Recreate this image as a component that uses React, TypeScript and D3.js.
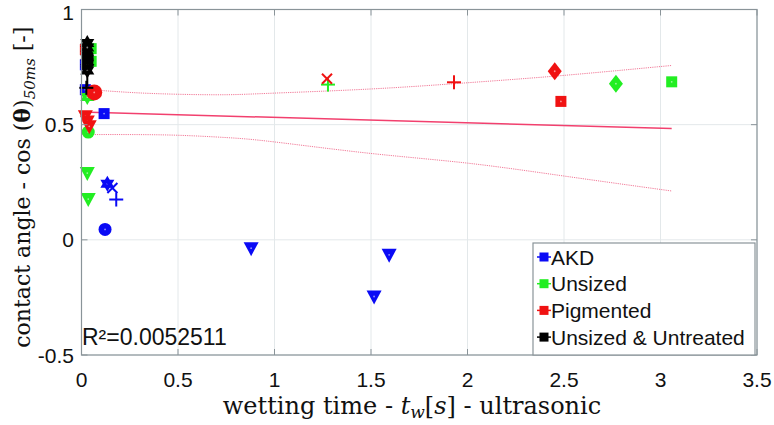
import React from "react";
import * as d3 from "d3";

// ---- data ----
const xTicks = [0, 0.5, 1, 1.5, 2, 2.5, 3, 3.5];
const yTicks = [-0.5, 0, 0.5, 1];

const seriesNames = ["AKD", "Unsized", "Pigmented", "Unsized & Untreated"];
const seriesColors = ["#0a0af5", "#22ee22", "#f01212", "#000000"];

// [wetting time, contact angle cos, marker]
const akdPoints: [number, number, string][] = [
  [0.02, 0.76, "square"],
  [0.02, 0.652, "square"],
  [0.117, 0.548, "square"],
  [0.134, 0.243, "hexagram"],
  [0.16, 0.225, "x"],
  [0.18, 0.175, "plus"],
  [0.122, 0.045, "circle"],
  [0.879, -0.036, "triangle"],
  [1.516, -0.246, "triangle"],
  [1.594, -0.065, "triangle"],
];
const unsizedPoints: [number, number, string][] = [
  [0.05, 0.83, "square"],
  [0.05, 0.775, "square"],
  [0.03, 0.62, "hexagram"],
  [0.035, 0.468, "circle"],
  [0.03, 0.29, "triangle"],
  [0.035, 0.177, "triangle"],
  [1.277, 0.674, "plus"],
  [2.769, 0.678, "diamond"],
  [3.058, 0.686, "square"],
];
const pigmentedPoints: [number, number, string][] = [
  [0.02, 0.826, "square"],
  [0.066, 0.64, "bigcircle"],
  [0.02, 0.536, "triangle"],
  [0.03, 0.514, "triangle"],
  [0.04, 0.493, "triangle"],
  [1.272, 0.699, "x"],
  [1.93, 0.684, "plus"],
  [2.452, 0.732, "diamond"],
  [2.484, 0.601, "square"],
];
const untreatedPoints: [number, number, string][] = [
  [0.03, 0.855, "hexagram"],
  [0.03, 0.835, "hexagram"],
  [0.03, 0.8, "circle"],
  [0.03, 0.78, "circle"],
  [0.03, 0.76, "diamond"],
  [0.03, 0.735, "hexagram"],
  [0.03, 0.7, "vline"],
  [0.025, 0.66, "plus"],
];

const fitX = [0, 3.058];
const fitY = [0.555, 0.483];
const bandX = [0, 0.25, 0.5, 0.75, 1, 1.5, 2, 2.5, 3.058];
const bandUpper = [0.655, 0.64, 0.632, 0.63, 0.637, 0.655, 0.682, 0.714, 0.757];
const bandLower = [0.457, 0.457, 0.454, 0.444, 0.425, 0.375, 0.333, 0.277, 0.212];
const r2Label = "R²=0.0052511";

const allSeries = [akdPoints, unsizedPoints, pigmentedPoints, untreatedPoints];

// ---- layout ----
const W = 774;
const H = 425;
const x = d3.scaleLinear().domain([0, 3.5]).range([81.5, 757]);
const y = d3.scaleLinear().domain([-0.5, 1]).range([355, 9.5]);

function Marker({ kind, cx, cy, color }: { kind: string; cx: number; cy: number; color: string }) {
  const dot = <circle cx={cx} cy={cy} r={0.9} fill="#ffffff" opacity={0.55} />;
  switch (kind) {
    case "square":
      return (
        <g>
          <rect x={cx - 5.5} y={cy - 5.5} width={11} height={11} fill={color} />
          {dot}
        </g>
      );
    case "circle":
      return (
        <g>
          <circle cx={cx} cy={cy} r={6.5} fill={color} />
          {dot}
        </g>
      );
    case "bigcircle":
      return (
        <g>
          <circle cx={cx} cy={cy} r={8} fill={color} />
          {dot}
        </g>
      );
    case "triangle":
      return (
        <g>
          <path d={`M${cx - 7.5},${cy - 6} L${cx + 7.5},${cy - 6} L${cx},${cy + 8} Z`} fill={color} />
          {dot}
        </g>
      );
    case "diamond":
      return (
        <g>
          <path d={`M${cx},${cy - 9} L${cx + 7},${cy} L${cx},${cy + 9} L${cx - 7},${cy} Z`} fill={color} />
          {dot}
        </g>
      );
    case "hexagram": {
      const p1 = `M${cx},${cy - 8} L${cx + 7},${cy + 4} L${cx - 7},${cy + 4} Z`;
      const p2 = `M${cx},${cy + 8} L${cx + 7},${cy - 4} L${cx - 7},${cy - 4} Z`;
      return (
        <g>
          <path d={p1} fill={color} />
          <path d={p2} fill={color} />
          {dot}
        </g>
      );
    }
    case "x":
      return (
        <g stroke={color} strokeWidth={2}>
          <line x1={cx - 5} y1={cy - 5} x2={cx + 5} y2={cy + 5} />
          <line x1={cx - 5} y1={cy + 5} x2={cx + 5} y2={cy - 5} />
        </g>
      );
    case "plus":
      return (
        <g stroke={color} strokeWidth={2}>
          <line x1={cx - 7} y1={cy} x2={cx + 7} y2={cy} />
          <line x1={cx} y1={cy - 7} x2={cx} y2={cy + 7} />
        </g>
      );
    case "vline":
      return <line x1={cx} y1={cy - 8} x2={cx} y2={cy + 8} stroke={color} strokeWidth={2} />;
    default:
      return null;
  }
}

export default function App() {
  const fitLine = d3.line<number>().x((d, i) => x(fitX[i])).y((d) => y(d));
  const band = d3
    .line<number>()
    .x((d, i) => x(bandX[i]))
    .y((d) => y(d))
    .curve(d3.curveNatural);
  const axisColor = "#8a9499";
  const gridColor = "#e3e8ea";
  const sans = "'Liberation Sans', Arial, sans-serif";
  const serif = "'DejaVu Serif', 'Liberation Serif', serif";
  const [x0, x1] = x.range();
  const [yb, yt] = y.range();

  return (
    <svg width={W} height={H} style={{ position: "absolute", left: 0, top: 0, background: "#fff" }}>
      <rect x={0} y={0} width={W} height={H} fill="#fff" />
      {/* grid */}
      {xTicks.map((t) => (
        <line key={"gx" + t} x1={x(t)} x2={x(t)} y1={yt} y2={yb} stroke={gridColor} strokeWidth={1} />
      ))}
      {yTicks.map((t) => (
        <line key={"gy" + t} x1={x0} x2={x1} y1={y(t)} y2={y(t)} stroke={gridColor} strokeWidth={1} />
      ))}
      {/* fit and bands */}
      <path d={fitLine(fitY) || ""} fill="none" stroke="#f2406e" strokeWidth={1.5} />
      <path d={band(bandUpper) || ""} fill="none" stroke="#f27a98" strokeWidth={1} strokeDasharray="1.2,1" />
      <path d={band(bandLower) || ""} fill="none" stroke="#f27a98" strokeWidth={1} strokeDasharray="1.2,1" />
      {/* points */}
      {allSeries.map((pts, si) =>
        pts.map((p, i) => (
          <Marker key={si + "-" + i} kind={p[2]} cx={x(p[0])} cy={y(p[1])} color={seriesColors[si]} />
        ))
      )}
      {/* axes box */}
      <rect x={x0} y={yt} width={x1 - x0} height={yb - yt} fill="none" stroke={axisColor} strokeWidth={1.2} />
      {xTicks.map((t) => (
        <g key={"tx" + t}>
          <line x1={x(t)} x2={x(t)} y1={yb} y2={yb - 6} stroke={axisColor} />
          <line x1={x(t)} x2={x(t)} y1={yt} y2={yt + 6} stroke={axisColor} />
          <text x={x(t)} y={387} textAnchor="middle" fontFamily={sans} fontSize={21} fill="#111">
            {String(t)}
          </text>
        </g>
      ))}
      {yTicks.map((t) => (
        <g key={"ty" + t}>
          <line x1={x0} x2={x0 + 6} y1={y(t)} y2={y(t)} stroke={axisColor} />
          <line x1={x1} x2={x1 - 6} y1={y(t)} y2={y(t)} stroke={axisColor} />
          <text x={74} y={Math.max(y(t) + 7.5, 20)} textAnchor="end" fontFamily={sans} fontSize={21} fill="#111">
            {String(t)}
          </text>
        </g>
      ))}
      {/* legend */}
      <g>
        <rect x={533} y={243} width={222} height={112} fill="#fff" stroke={axisColor} strokeWidth={1.2} />
        {seriesNames.map((n, i) => {
          const cy = 257 + i * 26.7;
          return (
            <g key={n}>
              <line x1={537} x2={551} y1={cy} y2={cy} stroke={seriesColors[i]} strokeWidth={1.5} />
              <rect x={539.5} y={cy - 4.5} width={9} height={9} fill={seriesColors[i]} />
              <text x={551} y={cy + 7.5} fontFamily={sans} fontSize={21} fill="#111">
                {n}
              </text>
            </g>
          );
        })}
      </g>
      {/* R2 */}
      <text x={82} y={345} fontFamily={sans} fontSize={23} fill="#111">
        {r2Label}
      </text>
      {/* axis labels */}
      <text x={412} y={414} textAnchor="middle" fontFamily={serif} fontSize={24} fill="#111">
        wetting time - <tspan fontStyle="italic">t</tspan>
        <tspan fontStyle="italic" fontSize={17} dy={4}>w</tspan>
        <tspan dy={-4}>[</tspan>
        <tspan fontStyle="italic">s</tspan>] - ultrasonic
      </text>
      <text
        transform={`translate(30,${(yt + yb) / 2 + 5}) rotate(-90)`}
        textAnchor="middle"
        fontFamily={serif}
        fontSize={22}
        fill="#111"
      >
        contact angle - cos (<tspan fontWeight="bold">θ</tspan>)
        <tspan fontStyle="italic" fontSize={15} dy={5}>50ms</tspan>
        <tspan dy={-5}> [-]</tspan>
      </text>
    </svg>
  );
}
